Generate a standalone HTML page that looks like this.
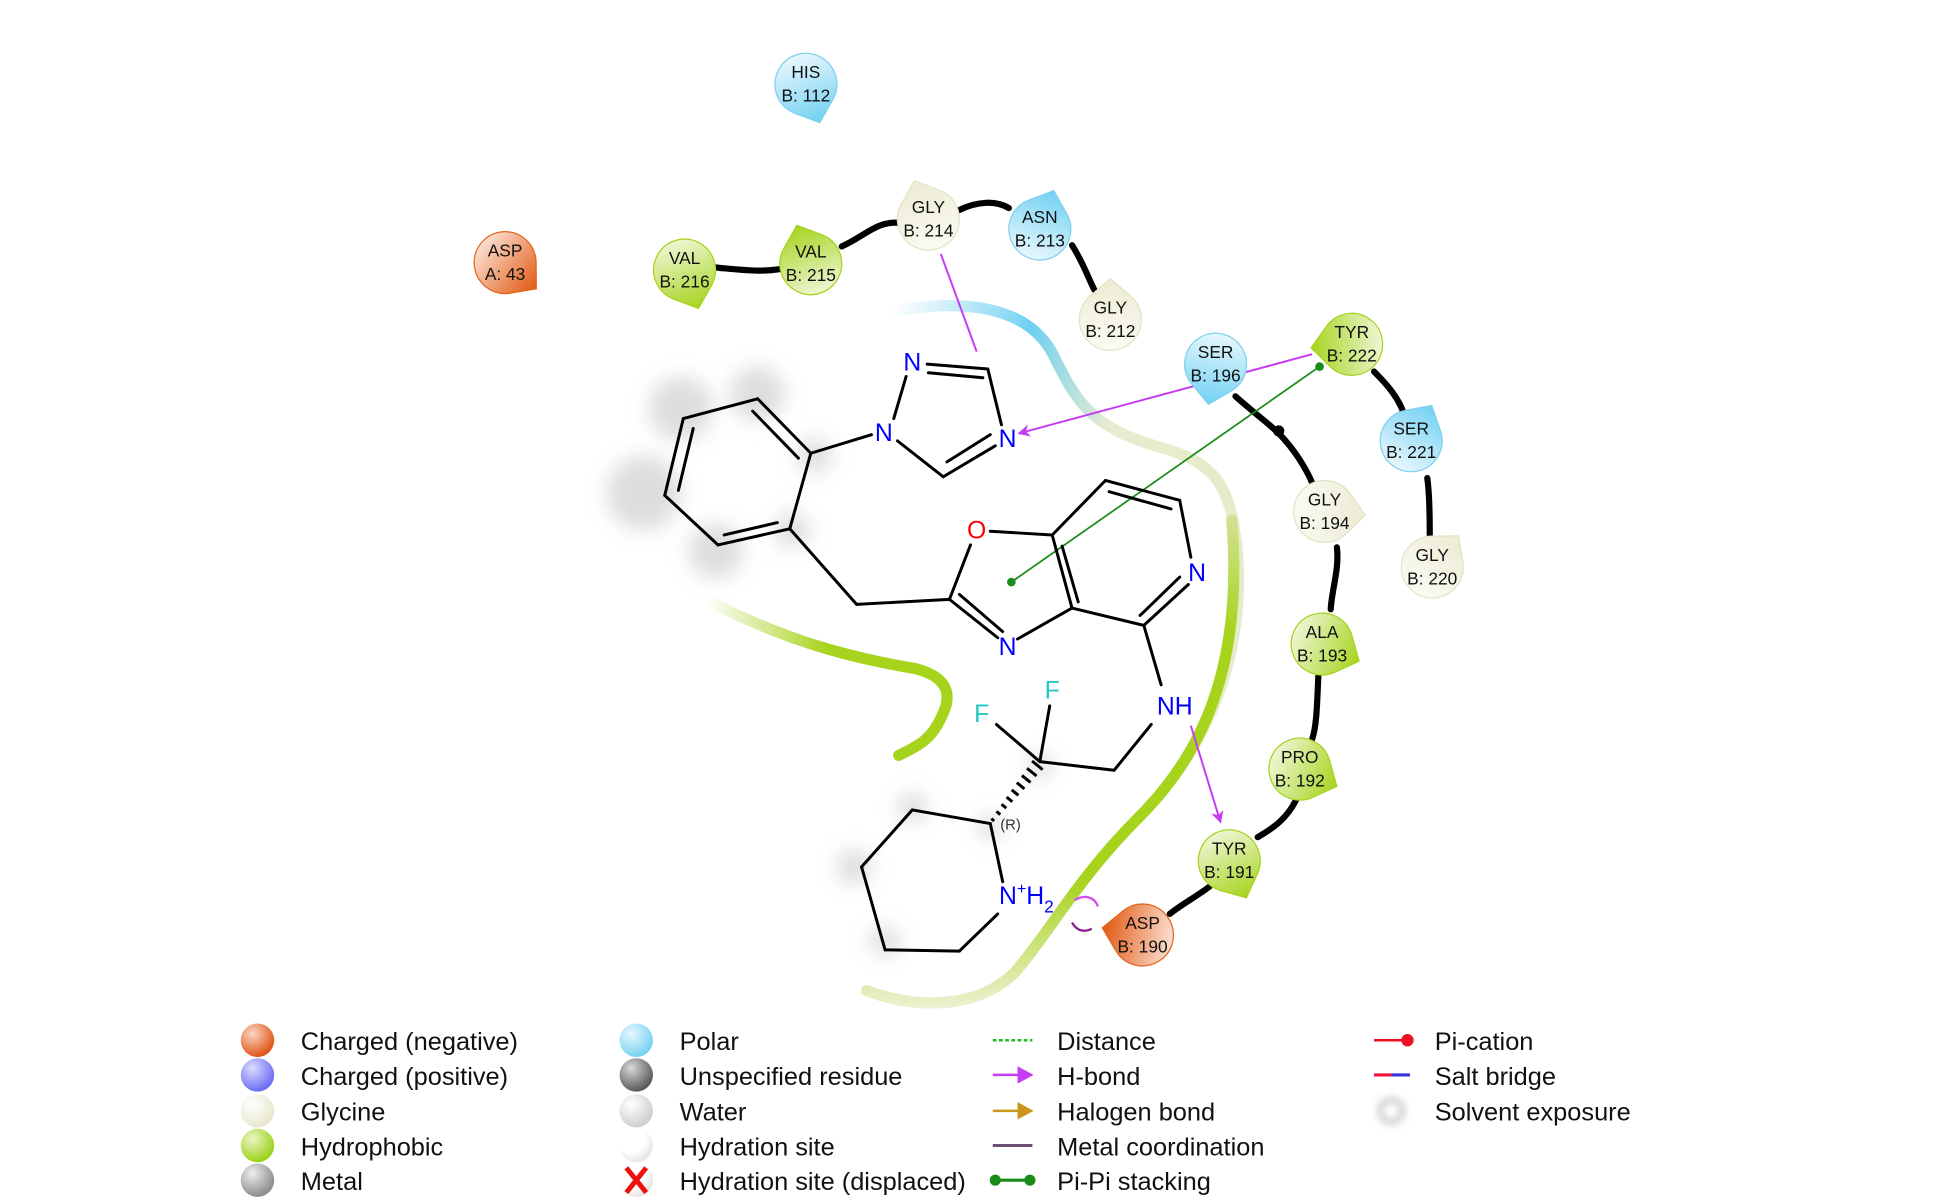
<!DOCTYPE html>
<html><head><meta charset="utf-8">
<style>
html,body{margin:0;padding:0;background:#fff;}
svg{display:block;}
text{font-family:"Liberation Sans",sans-serif;}
</style></head>
<body>
<svg id="chart" width="1941" height="1200" viewBox="0 0 1568 969" preserveAspectRatio="none" xmlns="http://www.w3.org/2000/svg">
<defs>
  <filter id="blur6" x="-1" y="-1" width="3" height="3"><feGaussianBlur stdDeviation="8"/></filter>
  <filter id="blur3" x="-1" y="-1" width="3" height="3"><feGaussianBlur stdDeviation="3"/></filter>
  <linearGradient id="g-neg" gradientUnits="userSpaceOnUse" x1="0" y1="-34" x2="0" y2="26"><stop offset="0" stop-color="#e2560f"/><stop offset="1" stop-color="#fbe3d6"/></linearGradient>
  <linearGradient id="g-pol" gradientUnits="userSpaceOnUse" x1="0" y1="-34" x2="0" y2="26"><stop offset="0" stop-color="#6fd0f2"/><stop offset="1" stop-color="#eaf8fd"/></linearGradient>
  <linearGradient id="g-gly" gradientUnits="userSpaceOnUse" x1="0" y1="-34" x2="0" y2="26"><stop offset="0" stop-color="#ecebd3"/><stop offset="1" stop-color="#fbfbf4"/></linearGradient>
  <linearGradient id="g-hyd" gradientUnits="userSpaceOnUse" x1="0" y1="-34" x2="0" y2="26"><stop offset="0" stop-color="#a6d31c"/><stop offset="1" stop-color="#eef7d6"/></linearGradient>
  <radialGradient id="s-neg" cx="0.35" cy="0.3" r="0.7"><stop offset="0" stop-color="#fbd6c2"/><stop offset="1" stop-color="#e0561a"/></radialGradient>
  <radialGradient id="s-pos" cx="0.35" cy="0.3" r="0.7"><stop offset="0" stop-color="#dcdcff"/><stop offset="1" stop-color="#6c6cf4"/></radialGradient>
  <radialGradient id="s-gly" cx="0.35" cy="0.3" r="0.7"><stop offset="0" stop-color="#ffffff"/><stop offset="1" stop-color="#e8e8cf"/></radialGradient>
  <radialGradient id="s-hyd" cx="0.35" cy="0.3" r="0.7"><stop offset="0" stop-color="#eaf6c6"/><stop offset="1" stop-color="#9cd11a"/></radialGradient>
  <radialGradient id="s-met" cx="0.35" cy="0.3" r="0.7"><stop offset="0" stop-color="#eeeeee"/><stop offset="1" stop-color="#8c8c8c"/></radialGradient>
  <radialGradient id="s-pol" cx="0.35" cy="0.3" r="0.7"><stop offset="0" stop-color="#e8f8fe"/><stop offset="1" stop-color="#78d2f2"/></radialGradient>
  <radialGradient id="s-uns" cx="0.35" cy="0.3" r="0.7"><stop offset="0" stop-color="#d8d8d8"/><stop offset="1" stop-color="#5a5a5a"/></radialGradient>
  <radialGradient id="s-wat" cx="0.35" cy="0.3" r="0.7"><stop offset="0" stop-color="#ffffff"/><stop offset="1" stop-color="#cfcfcf"/></radialGradient>
  <radialGradient id="s-hs" cx="0.35" cy="0.3" r="0.7"><stop offset="0.6" stop-color="#ffffff"/><stop offset="1" stop-color="#e6e6e6"/></radialGradient>
  <linearGradient id="pk-top" gradientUnits="userSpaceOnUse" x1="720" y1="250" x2="1000" y2="380"><stop offset="0" stop-color="#7fd4f0" stop-opacity="0"/><stop offset="0.35" stop-color="#6fd0f2"/><stop offset="0.65" stop-color="#e9eccf"/><stop offset="1" stop-color="#e6ebc9"/></linearGradient>
  <linearGradient id="pk-right" gradientUnits="userSpaceOnUse" x1="0" y1="380" x2="0" y2="820"><stop offset="0" stop-color="#e2e8c0"/><stop offset="0.3" stop-color="#a6d31c"/><stop offset="0.75" stop-color="#a6d31c"/><stop offset="1" stop-color="#f2f2dc"/></linearGradient>
  <linearGradient id="pk-left" gradientUnits="userSpaceOnUse" x1="570" y1="0" x2="770" y2="0"><stop offset="0" stop-color="#a6d31c" stop-opacity="0"/><stop offset="0.5" stop-color="#a6d31c"/><stop offset="1" stop-color="#a6d31c"/></linearGradient>
  <marker id="arrowM" markerWidth="10" markerHeight="10" refX="9" refY="5" orient="auto" markerUnits="userSpaceOnUse"><path d="M0,0 L10,5 L0,10 L3,5 Z" fill="#c63cf2"/></marker>
</defs>

<g>
  <path d="M718,252 C780,240 830,248 850,285 C870,325 880,345 940,362 C985,375 995,395 1000,450 C1005,540 970,610 920,660 C870,710 850,750 820,785 C790,815 740,815 700,800" fill="none" stroke="url(#pk-top)" stroke-width="9" stroke-linecap="round"/>
  <path d="M995,420 C1005,540 970,610 920,660 C870,710 850,750 820,785 C790,815 740,815 700,800" fill="none" stroke="url(#pk-right)" stroke-width="9" stroke-linecap="round"/>
  <path d="M572,485 C630,515 680,530 740,540 C770,548 768,565 760,580 C752,598 740,603 726,610" fill="none" stroke="url(#pk-left)" stroke-width="9" stroke-linecap="round"/>
</g>

<g id="solvent" fill="#bcbcbc" opacity="0.5" filter="url(#blur6)"></g>

<g id="backbone" fill="none" stroke="#000" stroke-width="5" stroke-linecap="round"></g>

<g>
  <line x1="760" y1="205" x2="789" y2="284" stroke="#c63cf2" stroke-width="1.6"/>
  <line x1="1060" y1="286" x2="823" y2="350" stroke="#c63cf2" stroke-width="1.6" marker-end="url(#arrowM)"/>
  <line x1="962" y1="586" x2="986" y2="664" stroke="#c63cf2" stroke-width="1.6" marker-end="url(#arrowM)"/>
  <line x1="1066" y1="296" x2="817" y2="470" stroke="#1a8c1a" stroke-width="1.4"/>
  <circle cx="1066" cy="296" r="3.5" fill="#1a8c1a"/>
  <circle cx="817" cy="470" r="3.5" fill="#1a8c1a"/>
  <path d="M868,727 C876,722 884,724 887,732" fill="none" stroke="#d44cf0" stroke-width="1.8"/>
  <path d="M866,745 C870,752 876,753 882,750" fill="none" stroke="#8a1a8a" stroke-width="1.8"/>
</g>

<g id="ligand" stroke="#000" stroke-width="2.4" fill="none" stroke-linecap="round"></g>
<g id="hash" stroke="#000" stroke-width="2.4"></g>
<g font-size="20">
  <text x="737" y="299" fill="#0000ff" text-anchor="middle">N</text>
  <text x="714" y="356" fill="#0000ff" text-anchor="middle">N</text>
  <text x="814" y="361" fill="#0000ff" text-anchor="middle">N</text>
  <text x="789" y="435" fill="#ff0000" text-anchor="middle">O</text>
  <text x="967" y="469" fill="#0000ff" text-anchor="middle">N</text>
  <text x="814" y="529" fill="#0000ff" text-anchor="middle">N</text>
  <text x="949" y="577" fill="#0000ff" text-anchor="middle">NH</text>
  <text x="850" y="564" fill="#22c8c8" text-anchor="middle">F</text>
  <text x="793" y="583" fill="#22c8c8" text-anchor="middle">F</text>
  <text x="808" y="670" fill="#333" font-size="12">(R)</text>
  <text x="807" y="730" fill="#0000ff">N<tspan font-size="13" dy="-8">+</tspan><tspan dy="8">H</tspan><tspan font-size="14" dy="7">2</tspan></text>
</g>

<g id="residues"></g>

<g font-size="20.5" fill="#111">
  <g><circle cx="208" cy="840" r="13.5" fill="url(#s-neg)"/><text x="243" y="848">Charged (negative)</text></g>
  <g><circle cx="208" cy="868" r="13.5" fill="url(#s-pos)"/><text x="243" y="876">Charged (positive)</text></g>
  <g><circle cx="208" cy="897" r="13.5" fill="url(#s-gly)"/><text x="243" y="905">Glycine</text></g>
  <g><circle cx="208" cy="925" r="13.5" fill="url(#s-hyd)"/><text x="243" y="933">Hydrophobic</text></g>
  <g><circle cx="208" cy="953" r="13.5" fill="url(#s-met)"/><text x="243" y="961">Metal</text></g>

  <g><circle cx="514" cy="840" r="13.5" fill="url(#s-pol)"/><text x="549" y="848">Polar</text></g>
  <g><circle cx="514" cy="868" r="13.5" fill="url(#s-uns)"/><text x="549" y="876">Unspecified residue</text></g>
  <g><circle cx="514" cy="897" r="13.5" fill="url(#s-wat)"/><text x="549" y="905">Water</text></g>
  <g><circle cx="514" cy="925" r="13.5" fill="url(#s-hs)"/><text x="549" y="933">Hydration site</text></g>
  <g><circle cx="514" cy="953" r="13.5" fill="url(#s-hs)"/><path d="M506,943 L522,963 M522,943 L506,963" stroke="#ee1111" stroke-width="4"/><text x="549" y="961">Hydration site (displaced)</text></g>

  <g><line x1="802" y1="840" x2="834" y2="840" stroke="#22bb22" stroke-width="2" stroke-dasharray="3,2"/><text x="854" y="848">Distance</text></g>
  <g><line x1="802" y1="868" x2="826" y2="868" stroke="#c63cf2" stroke-width="2"/><path d="M822,861 L835,868 L822,875 Z" fill="#c63cf2"/><text x="854" y="876">H-bond</text></g>
  <g><line x1="802" y1="897" x2="826" y2="897" stroke="#c8961a" stroke-width="2"/><path d="M822,890 L835,897 L822,904 Z" fill="#c8961a"/><text x="854" y="905">Halogen bond</text></g>
  <g><line x1="802" y1="925" x2="834" y2="925" stroke="#6a5070" stroke-width="2.5"/><text x="854" y="933">Metal coordination</text></g>
  <g><line x1="804" y1="953" x2="832" y2="953" stroke="#1a8c1a" stroke-width="2.5"/><circle cx="804" cy="953" r="4.5" fill="#1a8c1a"/><circle cx="832" cy="953" r="4.5" fill="#1a8c1a"/><text x="854" y="961">Pi-Pi stacking</text></g>

  <g><line x1="1110" y1="840" x2="1136" y2="840" stroke="#ee1122" stroke-width="2"/><circle cx="1137" cy="840" r="5" fill="#ee1122"/><text x="1159" y="848">Pi-cation</text></g>
  <g><line x1="1110" y1="868" x2="1124" y2="868" stroke="#ee1133" stroke-width="2.5"/><line x1="1124" y1="868" x2="1139" y2="868" stroke="#3333dd" stroke-width="2.5"/><text x="1159" y="876">Salt bridge</text></g>
  <g><circle cx="1124" cy="897" r="9" fill="none" stroke="#c4c4c4" stroke-width="4" filter="url(#blur3)"/><text x="1159" y="905">Solvent exposure</text></g>
</g>
</svg>
<script>
const NS = 'http://www.w3.org/2000/svg';
const resNames = ['HIS','ASP','VAL','VAL','GLY','ASN','GLY','SER','TYR','SER','GLY','GLY','ALA','PRO','TYR','ASP'];
const resIds = ['B: 112','A: 43','B: 216','B: 215','B: 214','B: 213','B: 212','B: 196','B: 222','B: 221','B: 194','B: 220','B: 193','B: 192','B: 191','B: 190'];
const resTypes = ['pol','neg','hyd','hyd','gly','pol','gly','pol','hyd','pol','gly','gly','hyd','hyd','hyd','neg'];
const resX = [651,408,553,655,750,840,897,982,1092,1140,1070,1157,1068,1050,993,923];
const resY = [68,212,218,213,177,185,258,294,278,356,413,458,520,621,695,755];
const resTipAngle = [160,130,160,-20,-20,20,0,190,-95,30,95,40,115,115,155,-80];

const strokeCol = {neg:'#e2661e', pol:'#7fd0ee', gly:'#e2e4c4', hyd:'#a6d31c'};

const resG = document.getElementById('residues');
resNames.forEach((n, i) => {
  const g = document.createElementNS(NS, 'g');
  
  
  const p = document.createElementNS(NS, 'path');
  
  
  p.setAttribute('d', 'M0,-33 L16.6,-18.8 A25 25 0 1 1 -16.6,-18.8 Z');
  p.setAttribute('transform', `translate(${resX[i]},${resY[i]}) rotate(${resTipAngle[i]})`);
  p.setAttribute('fill', 'url(#g-' + resTypes[i] + ')');
  p.setAttribute('stroke', strokeCol[resTypes[i]]);
  p.setAttribute('stroke-width', '1');
  g.appendChild(p);
  [n, resIds[i]].forEach((t, k) => {
    const tx = document.createElementNS(NS, 'text');
    
    
    tx.setAttribute('x', resX[i]);
    tx.setAttribute('y', resY[i] - 5 + k * 19);
    tx.setAttribute('text-anchor', 'middle');
    tx.setAttribute('font-size', '14');
    tx.setAttribute('fill', '#111');
    tx.textContent = t;
    g.appendChild(tx);
  });
  resG.appendChild(g);
});

const backbonePaths = [
  'M578,216 C600,218 615,220 632,217',
  'M680,199 C700,190 708,178 728,180',
  'M774,170 C790,162 805,162 815,168',
  'M866,198 C875,212 878,222 884,234',
  'M998,320 C1015,335 1025,342 1033,350 C1045,362 1055,378 1060,390',
  'M1080,442 C1082,460 1076,475 1075,492',
  'M1065,546 C1064,565 1064,585 1060,597',
  'M1047,646 C1040,660 1030,668 1016,676',
  'M977,716 C965,725 955,730 945,738',
  'M1110,300 C1122,312 1130,322 1134,334',
  'M1153,386 C1155,400 1155,420 1155,432'
];
const bb = document.getElementById('backbone');
backbonePaths.forEach(d => {
  const p = document.createElementNS(NS, 'path');
  
  
  p.setAttribute('d', d);
  bb.appendChild(p);
});
const dot = document.createElementNS(NS, 'circle');


dot.setAttribute('cx', 1033); dot.setAttribute('cy', 348); dot.setAttribute('r', 4.5);
dot.setAttribute('fill', '#000'); dot.setAttribute('stroke', 'none');
bb.appendChild(dot);

const solvX = [550,612,520,578,640,658,737,690,715,840,800];
const solvY = [330,318,398,445,428,368,652,700,760,618,668];
const solvR = [26,22,30,22,14,14,12,14,12,10,10];
const sg = document.getElementById('solvent');
solvX.forEach((x, i) => {
  const c = document.createElementNS(NS, 'circle');
  
  
  c.setAttribute('cx', x); c.setAttribute('cy', solvY[i]); c.setAttribute('r', solvR[i]);
  sg.appendChild(c);
});

const bonds = [
  [552,338,612,322],[612,322,655,366],[655,366,638,427],[638,427,580,440],[580,440,537,400],[537,400,552,338],
  [608,332,645,370],[628,422,585,432],[548,396,560,346],
  [655,366,704,351],
  [722,338,732,304],[749,294,798,298],[750,301,794,305],[798,298,809,343],[804,360,762,385],[800,351,765,373],[762,385,725,356],
  [638,427,692,488],[692,488,767,484],
  [767,484,784,440],[800,429,850,432],[767,484,806,515],[775,480,810,510],[822,516,866,491],
  [850,432,866,491],[858,441,871,486],[850,432,893,388],[893,388,953,404],[896,397,946,411],[953,404,962,450],[960,472,924,505],[953,466,921,497],[924,505,866,491],
  [924,505,938,553],[930,585,900,622],[900,622,840,615],[840,615,848,570],[840,615,805,585],
  [800,665,737,654],[737,654,696,700],[696,700,715,767],[715,767,775,768],[775,768,806,738],[810,712,800,665]
];
const lg = document.getElementById('ligand');
bonds.forEach(b => {
  const l = document.createElementNS(NS, 'line');
  
  
  l.setAttribute('x1', b[0]); l.setAttribute('y1', b[1]); l.setAttribute('x2', b[2]); l.setAttribute('y2', b[3]);
  lg.appendChild(l);
});
const hg = document.getElementById('hash');
for (let k = 0; k < 9; k++) {
  const t = k / 8;
  const cx = 802 + (838 - 802) * t, cy = 662 + (618 - 662) * t;
  const w = 1.5 + 4 * t;
  const l = document.createElementNS(NS, 'line');
  
  
  l.setAttribute('x1', cx - w * 0.77); l.setAttribute('y1', cy - w * 0.63);
  l.setAttribute('x2', cx + w * 0.77); l.setAttribute('y2', cy + w * 0.63);
  hg.appendChild(l);
}
</script>
</body></html>
